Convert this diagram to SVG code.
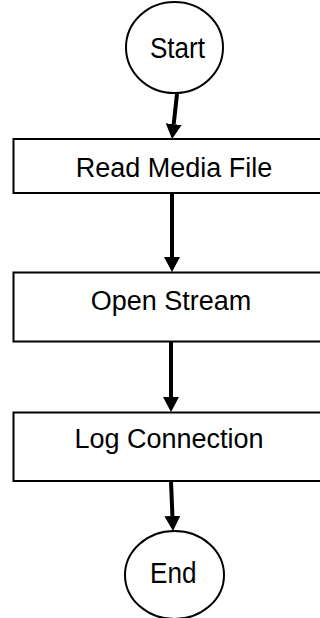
<svg xmlns="http://www.w3.org/2000/svg" width="320" height="618" viewBox="0 0 320 618">
<style>
.node{fill:#fff;stroke:#000;stroke-width:2}
.lbl{font-family:"Liberation Sans",Arial,sans-serif;font-size:27px;fill:#000;text-anchor:middle}
.term{font-family:"Liberation Sans",Arial,sans-serif;font-size:29px;fill:#000;text-anchor:middle}
.edge{stroke:#000;stroke-width:4;fill:none}
</style>
<defs>
<marker id="ah" markerUnits="userSpaceOnUse" markerWidth="15" markerHeight="16" viewBox="0 0 15 16" refX="0" refY="8" orient="auto">
<path d="M0,0 L15,8 L0,16 z" fill="#000"/>
</marker>
</defs>
<rect width="320" height="618" fill="#fff"/>
<g id="start">
<ellipse class="node" cx="174.5" cy="47.5" rx="48.5" ry="45.5"/>
<text class="term" transform="translate(177.5,57.7) scale(0.9,1)">Start</text>
</g>
<g id="read">
<rect class="node" x="13.5" y="139" width="310" height="54"/>
<text class="lbl" x="174" y="177.3">Read Media File</text>
</g>
<g id="open">
<rect class="node" x="13.5" y="272.5" width="310" height="69"/>
<text class="lbl" x="171" y="310">Open Stream</text>
</g>
<g id="log">
<rect class="node" x="13.5" y="412.5" width="310" height="68.5"/>
<text class="lbl" x="169" y="448.3">Log Connection</text>
</g>
<g id="end">
<ellipse class="node" cx="174.5" cy="575" rx="49.5" ry="44"/>
<text class="term" transform="translate(173.3,583.3) scale(0.9,1)">End</text>
</g>
<g id="connectors">
<line class="edge" x1="177" y1="94" x2="173.7" y2="124.1" marker-end="url(#ah)"/>
<line class="edge" x1="172" y1="193" x2="172" y2="257" marker-end="url(#ah)"/>
<line class="edge" x1="171" y1="342" x2="171" y2="397" marker-end="url(#ah)"/>
<line class="edge" x1="171" y1="481" x2="172.4" y2="516" marker-end="url(#ah)"/>
</g>
</svg>
